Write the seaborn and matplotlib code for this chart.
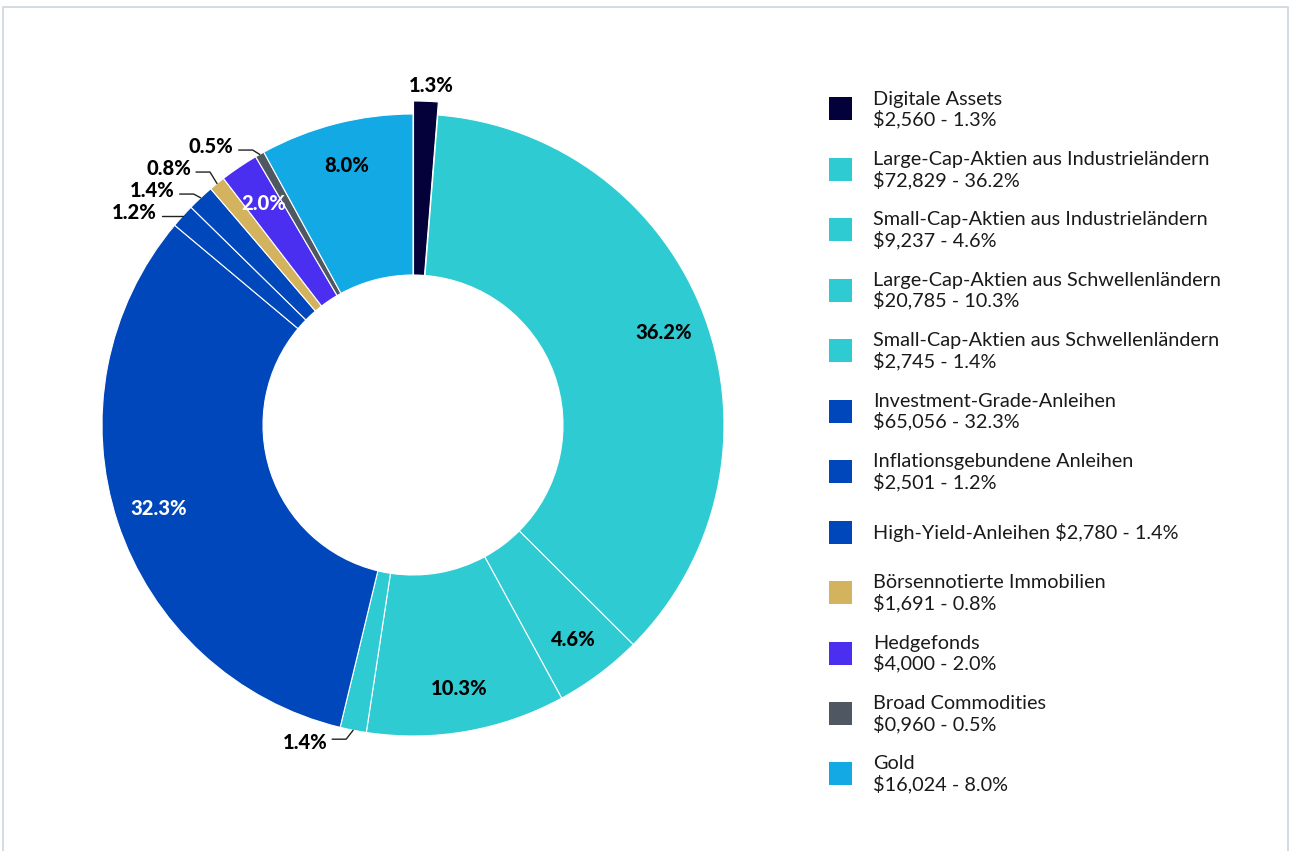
import numpy as np
import matplotlib
matplotlib.use("Agg")
import matplotlib.pyplot as plt
import seaborn as sns
from matplotlib.patches import Rectangle
from matplotlib.lines import Line2D

# ---------------- data ----------------
categories = [
    "Digitale Assets",
    "Large-Cap-Aktien aus Industrieländern",
    "Small-Cap-Aktien aus Industrieländern",
    "Large-Cap-Aktien aus Schwellenländern",
    "Small-Cap-Aktien aus Schwellenländern",
    "Investment-Grade-Anleihen",
    "Inflationsgebundene Anleihen",
    "High-Yield-Anleihen",
    "Börsennotierte Immobilien",
    "Hedgefonds",
    "Broad Commodities",
    "Gold",
]
amounts = [2560, 72829, 9237, 20785, 2745, 65056, 2501, 2780, 1691, 4000, 960, 16024]
amount_labels = ["$2,560", "$72,829", "$9,237", "$20,785", "$2,745", "$65,056",
                 "$2,501", "$2,780", "$1,691", "$4,000", "$0,960", "$16,024"]
percents = [1.3, 36.2, 4.6, 10.3, 1.4, 32.3, 1.2, 1.4, 0.8, 2.0, 0.5, 8.0]
legend_breaks = ["\n", "\n", "\n", "\n", "\n", "\n", "\n", " ", "\n", "\n", "\n", "\n"]
colors = ["#03003a", "#2ecbd3", "#2ecbd3", "#2ecbd3", "#2ecbd3", "#0047bb",
          "#0047bb", "#0047bb", "#d4b35f", "#4b2ff0", "#4f5862", "#12a9e5"]
exploded_categories = ["Digitale Assets"]

# ---------------- style ----------------
sns.set_theme(style="white")
FONT = ["Lato", "DejaVu Sans"]
plt.rcParams["font.family"] = FONT

W, H = 1290, 851
fig = plt.figure(figsize=(W / 100, H / 100), dpi=100)
fig.patch.set_facecolor("white")

# border (top, left, right)
bc = "#ccd6dd"
fig.add_artist(Line2D([2.5 / W, 2.5 / W, 1287.5 / W, 1287.5 / W],
                      [0, (H - 7) / H, (H - 7) / H, 0],
                      transform=fig.transFigure, color=bc, lw=1.2))

# ---------------- donut ----------------
cx, cy, R, r_in = 413, 425, 311, 150
half = 360
ax = fig.add_axes([(cx - half) / W, (H - cy - half) / H, 2 * half / W, 2 * half / H])
px = 1.0 / R  # data units per pixel
offset = 13
explode = [offset * px if c in exploded_categories else 0 for c in categories]
wedges, _ = ax.pie(amounts, colors=colors, startangle=90, counterclock=False,
                   explode=explode, radius=1,
                   wedgeprops=dict(width=1 - r_in / R, edgecolor="white", linewidth=0.8))
# exploded slice keeps its inner edge close to the hole
for w, c in zip(wedges, categories):
    if c in exploded_categories:
        w.set_width(1 - (r_in - offset) * px)
lim = half / R
ax.set_xlim(-lim, lim)
ax.set_ylim(-lim, lim)
ax.set_aspect("equal")
ax.axis("off")


def is_dark(hexcol):
    rr, gg, bb = matplotlib.colors.to_rgb(hexcol)
    return 0.299 * rr + 0.587 * gg + 0.114 * bb < 0.45


label_kw = dict(fontsize=14.5, fontweight=900, family=FONT)

outside_top = []
outside_bottom = []
for w, pct, col, cat in zip(wedges, percents, colors, categories):
    mid = np.deg2rad((w.theta1 + w.theta2) / 2)
    ccx, ccy = w.center
    txt = f"{pct:.1f}%"
    if pct >= 2.0:
        d = 0.86
        ax.text(ccx + d * np.cos(mid), ccy + d * np.sin(mid), txt,
                ha="center", va="center",
                color="white" if is_dark(col) else "black", **label_kw)
    elif cat in exploded_categories:
        d = 1.05
        ax.text(ccx + d * np.cos(mid) + 5 * px, ccy + d * np.sin(mid), txt,
                ha="center", va="center", color="black", **label_kw)
    else:
        ex, ey = ccx + np.cos(mid), ccy + np.sin(mid)
        if ey >= 0:
            outside_top.append([ex, ey, txt])
        else:
            outside_bottom.append([ex, ey, txt])

# top-left labels, resolve overlaps from bottom up
outside_top.sort(key=lambda t: t[1])
prev = None
for item in outside_top:
    ex, ey, txt = item
    ly = ey + 4 * px
    if prev is not None and ly < prev + 22 * px:
        ly = prev + 22 * px
    prev = ly
    kx, ky = ex - 7 * px, ly - 4 * px
    ax.add_line(Line2D([kx - 14 * px, kx, ex], [ky, ky, ey], color="#222222", lw=1))
    ax.text(kx - 19 * px, ly, txt, ha="right", va="center", color="black", **label_kw)

for item in outside_bottom:
    ex, ey, txt = item
    ly = ey - 12 * px
    kx, ky = ex - 7 * px, ly + 3 * px
    ax.add_line(Line2D([kx - 14 * px, kx, ex], [ky, ky, ey], color="#222222", lw=1))
    ax.text(kx - 19 * px, ly, txt, ha="right", va="center", color="black", **label_kw)

# ---------------- legend ----------------
row0, step = 109, 60.45
n = len(categories)
top_px = row0 - step / 2
bot_px = row0 + (n - 1) * step + step / 2
lax = fig.add_axes([820 / W, (H - bot_px) / H, 470 / W, (bot_px - top_px) / H])
lax.set_xlim(820, 1290)
lax.set_ylim(n - 0.5, -0.5)
lax.axis("off")
sq = 23
for i, (cat, amt, pct, brk, col) in enumerate(zip(categories, amount_labels, percents,
                                                   legend_breaks, colors)):
    lax.add_patch(Rectangle((829, i - sq / 2 / step), sq, sq / step,
                            facecolor=col, edgecolor="none"))
    lax.text(873, i + 0.5 / step, f"{cat}{brk}{amt} - {pct:.1f}%", ha="left", va="center",
             fontsize=14.3, color="#1a1a1a", linespacing=1.15, parse_math=False,
             family=FONT)

fig.savefig("out.png", dpi=100, facecolor="white")
